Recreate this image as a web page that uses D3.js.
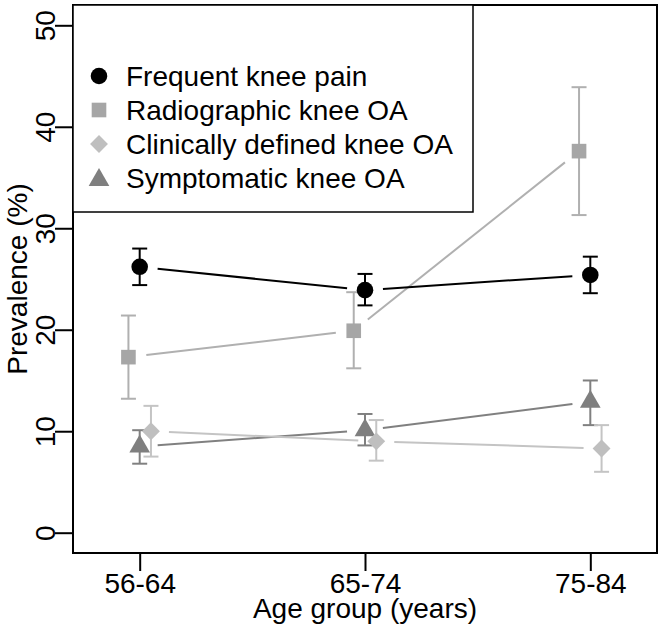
<!DOCTYPE html>
<html>
<head>
<meta charset="utf-8">
<script src="https://cdn.jsdelivr.net/npm/d3@7"></script>
<style>
  html, body { margin: 0; padding: 0; background: #fff; }
  text { font-family: "Liberation Sans", Arial, sans-serif; }
</style>
</head>
<body>
<svg id="chart" width="659" height="630"></svg>
<script>
// ---- data ----
const ageGroups = ["56-64", "65-74", "75-84"];
const seriesNames = ["Frequent knee pain", "Radiographic knee OA", "Clinically defined knee OA", "Symptomatic knee OA"];
const painValues = [26.2, 23.9, 25.4];
const painLower  = [24.4, 22.4, 23.6];
const painUpper  = [28.0, 25.5, 27.2];
const radioValues = [17.3, 19.9, 37.6];
const radioLower  = [13.2, 16.2, 31.3];
const radioUpper  = [21.4, 23.7, 43.9];
const clinValues = [10.0, 9.0, 8.3];
const clinLower  = [7.5, 7.1, 6.0];
const clinUpper  = [12.5, 11.1, 10.6];
const sympValues = [8.5, 10.1, 12.9];
const sympLower  = [6.8, 8.6, 10.6];
const sympUpper  = [10.1, 11.7, 15.0];
const yTicks = [0, 10, 20, 30, 40, 50];

// ---- styling ----
const styles = [
  {color: "#000000", line: "#000000", shape: "circle",   offset: 0,     lw: 2},
  {color: "#a6a6a6", line: "#b0b0b0", shape: "square",   offset: -0.05, lw: 2},
  {color: "#bfbfbf", line: "#c4c4c4", shape: "diamond",  offset: 0.05,  lw: 2},
  {color: "#7f7f7f", line: "#808080", shape: "triangle", offset: 0,     lw: 2}
];
const series = [
  {name: seriesNames[0], v: painValues,  lo: painLower,  hi: painUpper},
  {name: seriesNames[1], v: radioValues, lo: radioLower, hi: radioUpper},
  {name: seriesNames[2], v: clinValues,  lo: clinLower,  hi: clinUpper},
  {name: seriesNames[3], v: sympValues,  lo: sympLower,  hi: sympUpper}
];

const svg = d3.select("#chart");
const L = 73, R = 657, T = 5, B = 553;
const x = d3.scaleLinear().domain([0.704, 3.296]).range([L, R]);
const y = d3.scaleLinear().domain([-2, 52]).range([B, T]);
const FS = 28;

function symbolPath(shape) {
  if (shape === "circle") return d3.symbol(d3.symbolCircle, 216)();
  if (shape === "square") return d3.symbol(d3.symbolSquare, 214)();
  if (shape === "diamond") return d3.symbol(d3.symbolSquare, 160)();
  return d3.symbol(d3.symbolTriangle, 185)();
}
function symbolTransform(shape, px, py) {
  return shape === "diamond" ? `translate(${px},${py}) rotate(45)` : `translate(${px},${py})`;
}

// axes
const xAxis = d3.axisBottom(x).tickValues([1, 2, 3]).tickFormat((d, i) => ageGroups[i]).tickSize(18).tickSizeOuter(0);
const gx = svg.append("g").attr("transform", `translate(0,${B})`).call(xAxis);
gx.select(".domain").remove();
gx.selectAll(".tick line").attr("stroke", "#000").attr("stroke-width", 2);
gx.selectAll(".tick text").attr("font-size", FS).attr("fill", "#000").attr("dy", null).attr("y", 40);

const yAxis = d3.axisLeft(y).tickValues(yTicks).tickSize(18).tickSizeOuter(0);
const gy = svg.append("g").attr("transform", `translate(${L},0)`).call(yAxis);
gy.select(".domain").remove();
gy.selectAll(".tick line").attr("stroke", "#000").attr("stroke-width", 2);
gy.selectAll(".tick text").attr("font-size", FS).attr("fill", "#000")
  .attr("x", null).attr("dy", null).attr("text-anchor", "middle")
  .attr("transform", "translate(-18,0) rotate(-90)");

// axis titles
svg.append("text").attr("x", (L + R) / 2).attr("y", 618).attr("text-anchor", "middle")
  .attr("font-size", FS).text("Age group (years)");
svg.append("text").attr("transform", `translate(27,${(T + B) / 2}) rotate(-90)`).attr("text-anchor", "middle")
  .attr("font-size", FS).text("Prevalence (%)");

// connecting lines with gaps
const GAP = 18;
const drawOrder = [1, 0, 3, 2];
drawOrder.forEach(si => {
  const s = series[si], st = styles[si];
  for (let i = 0; i < s.v.length - 1; i++) {
    const x1 = x(i + 1 + st.offset), y1 = y(s.v[i]);
    const x2 = x(i + 2 + st.offset), y2 = y(s.v[i + 1]);
    const len = Math.hypot(x2 - x1, y2 - y1);
    const ux = (x2 - x1) / len, uy = (y2 - y1) / len;
    svg.append("line")
      .attr("x1", x1 + ux * GAP).attr("y1", y1 + uy * GAP)
      .attr("x2", x2 - ux * GAP).attr("y2", y2 - uy * GAP)
      .attr("stroke", st.line).attr("stroke-width", st.lw);
  }
});

// error bars + points
drawOrder.forEach(si => {
  const s = series[si], st = styles[si];
  const g = svg.append("g");
  s.v.forEach((v, i) => {
    const px = x(i + 1 + st.offset);
    g.append("line").attr("x1", px).attr("x2", px).attr("y1", y(s.lo[i])).attr("y2", y(s.hi[i]))
      .attr("stroke", st.line).attr("stroke-width", 2);
    [s.lo[i], s.hi[i]].forEach(e => {
      g.append("line").attr("x1", px - 7.5).attr("x2", px + 7.5).attr("y1", y(e)).attr("y2", y(e))
        .attr("stroke", st.line).attr("stroke-width", 2);
    });
    g.append("path").attr("d", symbolPath(st.shape))
      .attr("transform", symbolTransform(st.shape, px, y(v)))
      .attr("fill", st.color);
  });
});

// plot box
svg.append("rect").attr("x", L).attr("y", T).attr("width", R - L).attr("height", B - T)
  .attr("fill", "none").attr("stroke", "#000").attr("stroke-width", 2);

// legend
const lg = svg.append("g");
lg.append("rect").attr("x", L).attr("y", T).attr("width", 400).attr("height", 207)
  .attr("fill", "#fff").attr("stroke", "#000").attr("stroke-width", 1.5);
const rowY = [76, 110, 144, 178];
series.forEach((s, i) => {
  const st = styles[i];
  lg.append("path").attr("d", symbolPath(st.shape))
    .attr("transform", symbolTransform(st.shape, 99, rowY[i] + (st.shape === "triangle" ? 2 : 0)))
    .attr("fill", st.color);
  lg.append("text").attr("x", 126).attr("y", rowY[i] + 10).attr("font-size", FS).text(s.name);
});
</script>
</body>
</html>
